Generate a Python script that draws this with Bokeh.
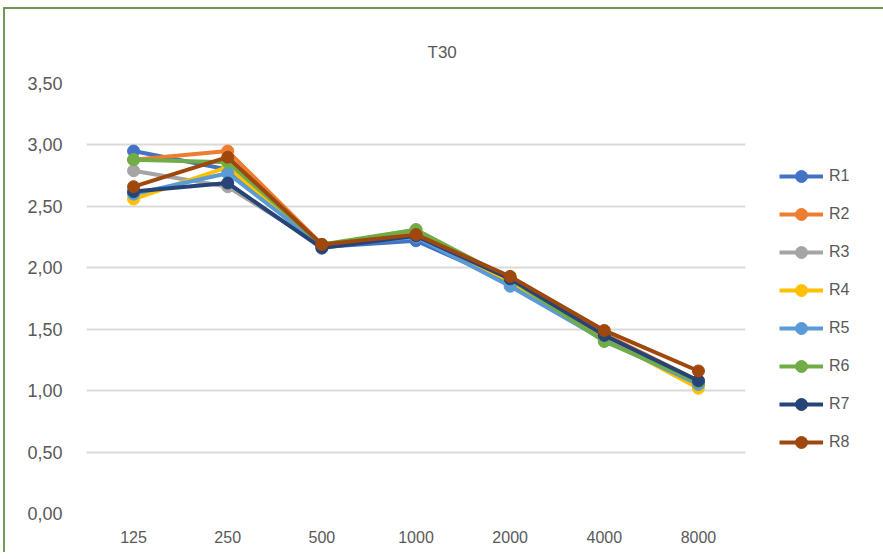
from bokeh.plotting import figure
from bokeh.models import (ColumnDataSource, Legend, LegendItem, FixedTicker,
                          CustomJSTickFormatter, Title)
from bokeh.embed import file_html
from bokeh.resources import INLINE

categories = ["125", "250", "500", "1000", "2000", "4000", "8000"]
series_names = ["R1", "R2", "R3", "R4", "R5", "R6", "R7", "R8"]
R1 = [2.95, 2.80, 2.17, 2.22, 1.88, 1.43, 1.06]
R2 = [2.88, 2.95, 2.19, 2.28, 1.91, 1.46, 1.08]
R3 = [2.79, 2.66, 2.18, 2.31, 1.90, 1.44, 1.06]
R4 = [2.56, 2.82, 2.18, 2.27, 1.89, 1.43, 1.02]
R5 = [2.60, 2.77, 2.18, 2.25, 1.85, 1.41, 1.05]
R6 = [2.88, 2.86, 2.19, 2.31, 1.91, 1.40, 1.07]
R7 = [2.62, 2.69, 2.16, 2.26, 1.91, 1.45, 1.08]
R8 = [2.66, 2.90, 2.19, 2.27, 1.93, 1.49, 1.16]
series_values = [R1, R2, R3, R4, R5, R6, R7, R8]
y_ticks = [0, 0.5, 1.0, 1.5, 2.0, 2.5, 3.0, 3.5]

colors = ["#4472C4", "#ED7D31", "#A5A5A5", "#FFC000",
          "#5B9BD5", "#70AD47", "#264478", "#9E480E"]

FONT = "Liberation Sans"
TXT = "#595959"

p = figure(frame_width=659, frame_height=430, x_range=categories, y_range=(0, 3.5),
           output_backend="svg", toolbar_location=None,
           min_border_left=81, min_border_right=120,
           min_border_top=74, min_border_bottom=39)
p.styles = {"border-top": "2px solid #6f9a52", "border-left": "2px solid #6f9a52",
            "margin-left": "3px", "margin-top": "7px"}
p.background_fill_color = "white"
p.border_fill_color = "white"
p.outline_line_color = None

t = Title(text="T30", align="left", offset=341, text_font=FONT,
          text_font_size="17px", text_color=TXT, text_font_style="normal",
          standoff=43)
p.add_layout(t, "above")

p.xgrid.grid_line_color = None
p.ygrid.grid_line_color = "#D9D9D9"
p.ygrid.grid_line_width = 2
p.yaxis.ticker = FixedTicker(ticks=y_ticks)
p.yaxis.formatter = CustomJSTickFormatter(code="return tick.toFixed(2).replace('.', ',');")

for ax in (p.xaxis, p.yaxis):
    ax.axis_line_color = None
    ax.major_tick_line_color = None
    ax.minor_tick_line_color = None
    ax.major_label_text_font = FONT
    ax.major_label_text_color = TXT
p.xaxis.major_label_text_font_size = "16px"
p.yaxis.major_label_text_font_size = "18px"
p.yaxis.major_label_standoff = 18
p.xaxis.major_label_standoff = 11

items = []
for name, vals, col in zip(series_names, series_values, colors):
    src = ColumnDataSource(dict(x=categories, y=vals))
    ln = p.line("x", "y", source=src, line_color=col, line_width=4)
    sc = p.scatter("x", "y", source=src, size=12, fill_color=col, line_color=col)
    items.append(LegendItem(label=name, renderers=[ln, sc]))

legend = Legend(items=items, location="left", border_line_color=None,
                background_fill_alpha=0, glyph_width=44, glyph_height=30,
                label_height=30, spacing=8, padding=0, margin=34,
                title=" ", title_text_font_size="12px", title_standoff=8,
                label_text_font=FONT, label_text_font_size="16px",
                label_text_color=TXT, label_standoff=6)
p.add_layout(legend, "right")

open("out.html", "w").write(file_html(p, INLINE))
